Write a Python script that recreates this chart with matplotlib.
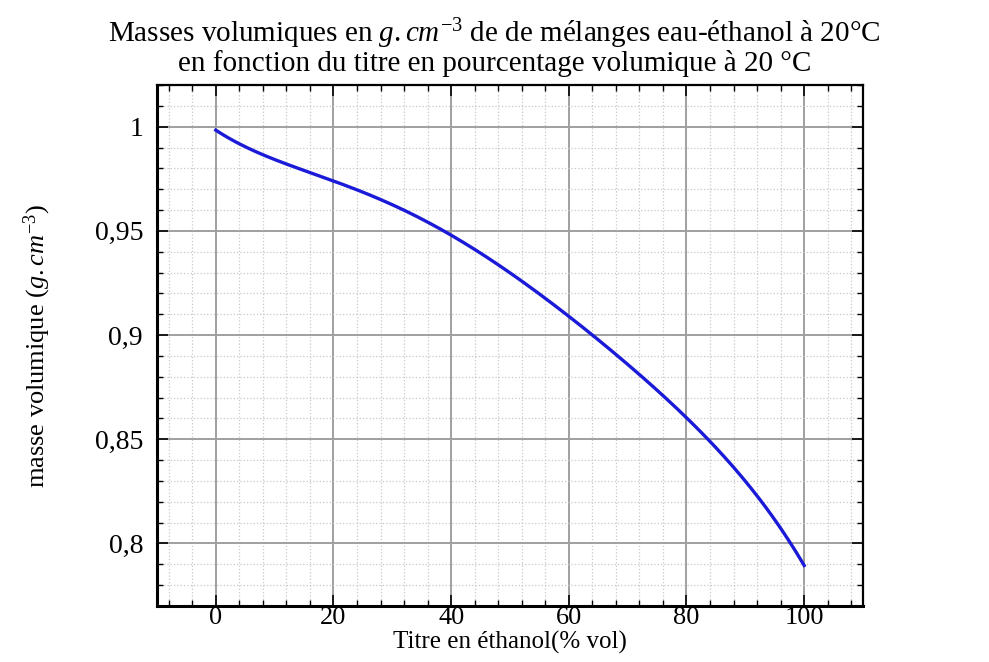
import matplotlib
matplotlib.use("Agg")
import matplotlib.pyplot as plt
from matplotlib.ticker import MultipleLocator, FuncFormatter
import numpy as np

# --- data: density of water-ethanol mixtures at 20 C vs % vol
titre = [0, 10, 20, 30, 40, 50, 60, 70, 80, 90, 100]
masse_vol = [0.9982, 0.9847, 0.9736, 0.9623, 0.9481, 0.9301, 0.9091, 0.8858, 0.8599, 0.8304, 0.7893]

plt.rcParams['font.family'] = ['Liberation Serif', 'DejaVu Serif']
plt.rcParams['mathtext.fontset'] = 'custom'
plt.rcParams['mathtext.rm'] = 'Liberation Serif'
plt.rcParams['mathtext.it'] = 'Liberation Serif:italic'

fig = plt.figure(figsize=(9.89, 6.62), dpi=100)
ax = fig.add_axes([0.1587, 0.0846, 0.7139, 0.787])

# smooth curve through the points
xs = np.linspace(0, 100, 200)
coef = np.polyfit(titre, masse_vol, 5)
ax.plot(xs, np.polyval(coef, xs), color='#1a1ad8', lw=2.4, zorder=3)

ax.set_xlim(-10, 110)
ax.set_ylim(0.77, 1.02)
ax.xaxis.set_major_locator(MultipleLocator(20))
ax.xaxis.set_minor_locator(MultipleLocator(4))
ax.yaxis.set_major_locator(MultipleLocator(0.05))
ax.yaxis.set_minor_locator(MultipleLocator(0.01))
ax.yaxis.set_major_formatter(FuncFormatter(lambda v, p: ('%g' % round(v, 2)).replace('.', ',')))

ax.grid(which='major', color='#a0a0a0', lw=1.4)
ax.grid(which='minor', color='#c8c8c8', lw=0.9, ls=':')
ax.tick_params(which='both', direction='in', top=True, right=True, labelsize=20)
ax.tick_params(axis='y', pad=10)
ax.tick_params(axis='x', pad=1, labelsize=19)
ax.tick_params(which='major', length=8, width=1.2)
ax.tick_params(which='minor', length=4, width=1.0)
for s in ax.spines.values():
    s.set_linewidth(1.6)
ax.spines['left'].set_linewidth(2.2)
ax.spines['bottom'].set_linewidth(2.2)

ax.set_xlabel('Titre en éthanol(% vol)', fontsize=18, labelpad=1)
ax.set_ylabel(r'masse volumique ($g.cm^{-3}$)', fontsize=19, labelpad=30)
fig.suptitle('Masses volumiques en $g.cm^{-3}$ de de mélanges eau-éthanol à 20°C\n'
             'en fonction du titre en pourcentage volumique à 20 °C',
             fontsize=21, y=0.975, linespacing=0.95)

fig.savefig('out.png', dpi=100)
